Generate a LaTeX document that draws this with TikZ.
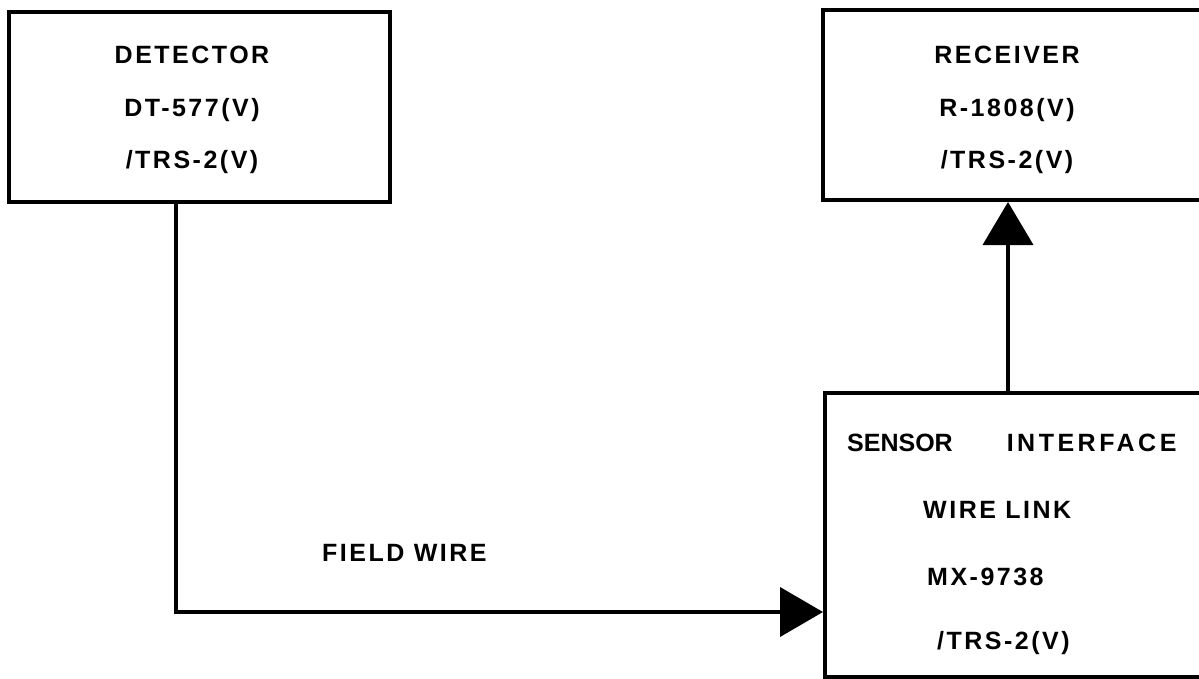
\documentclass[tikz,border=0pt]{standalone}
\usepackage{fontspec}
\setmainfont{Liberation Sans}
\newfontfamily\lbl[LetterSpace=10]{Liberation Sans}
\newfontfamily\plainlbl{Liberation Sans}
\newfontfamily\wide[LetterSpace=14]{Liberation Sans}
\usetikzlibrary{arrows.meta}
\begin{document}
\begin{tikzpicture}[x=1pt,y=-1pt,
  box/.style={draw=black,line width=4pt,fill=none,inner sep=0pt},
  txt/.style={font=\lbl\bfseries\fontsize{25}{28}\selectfont,inner sep=0pt,anchor=center},
  wire/.style={line width=4pt,draw=black}]
\useasboundingbox (0,0) rectangle (1199,679);
\fill[white] (0,0) rectangle (1199,679);
% boxes
\node[box,minimum width=381pt,minimum height=190pt] (det) at (199.5,107) {};
\node[box,minimum width=382pt,minimum height=190pt] (rec) at (1014,105) {};
\node[box,minimum width=380pt,minimum height=284pt] (ifc) at (1015,535) {};
% texts
\node[txt] (d1) at (192,55) {DETECTOR};
\node[txt] (d2) at (192,110) {DT-577(V)};
\node[txt] (d3) at (192,162) {/TRS-2(V)};
\node[txt] (r1) at (1007,55) {RECEIVER};
\node[txt] (r2) at (1007,110) {R-1808(V)};
\node[txt] (r3) at (1007,162) {/TRS-2(V)};
\node[txt,anchor=west,font=\bfseries\fontsize{25}{28}\selectfont] (i1) at (847,443) {{\plainlbl SENSOR}\hspace{54pt}{\wide INTERFACE}};
\node[txt,anchor=west] (i2) at (923,510) {WIRE LINK};
\node[txt,anchor=west] (i3) at (927,577) {MX-9738};
\node[txt,anchor=west] (i4) at (937,643) {/TRS-2(V)};
\node[txt,anchor=west] (fw) at (322,553) {FIELD WIRE};
% connectors
\coordinate (bend) at (176,612);
\coordinate (upx) at (1008,300);
\draw[wire,-{Triangle[length=43pt,width=49pt]}] (det.south -| bend) |- (ifc.west |- bend);
\draw[wire,-{Triangle[length=43pt,width=50pt]}] (ifc.north -| upx) -- (rec.south -| upx);
\end{tikzpicture}
\end{document}
